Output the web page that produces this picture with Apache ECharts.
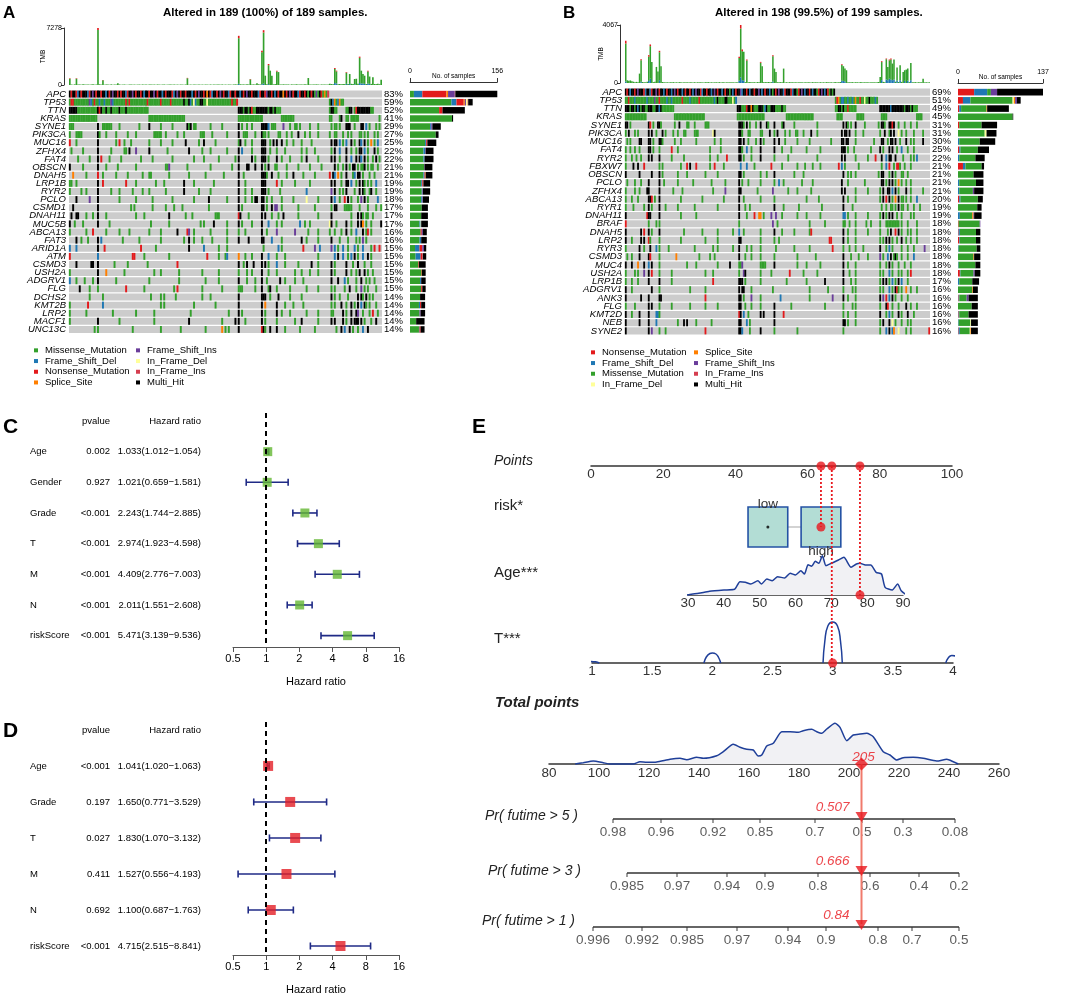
<!DOCTYPE html>
<html>
<head>
<meta charset="utf-8">
<title>oncoplot / forest / nomogram</title>
<script src="https://cdn.jsdelivr.net/npm/echarts@6/dist/echarts.min.js"></script>
<style>
html, body { margin: 0; padding: 0; background: #fff; }
#main { width: 1072px; height: 994px; }
</style>
</head>
<body>
<div id="main"></div>
<script>
/* ---------------- data ---------------- */
var mutTypes = ['Missense_Mutation', 'Frame_Shift_Del', 'Nonsense_Mutation', 'Splice_Site',
    'Frame_Shift_Ins', 'In_Frame_Del', 'In_Frame_Ins', 'Multi_Hit'];
var mutCodes = ['M', 'D', 'N', 'S', 'I', 'd', 'i', 'X'];

// panel A (189 samples)
var genesA = ['APC', 'TP53', 'TTN', 'KRAS', 'SYNE1', 'PIK3CA', 'MUC16', 'ZFHX4', 'FAT4', 'OBSCN',
    'DNAH5', 'LRP1B', 'RYR2', 'PCLO', 'CSMD1', 'DNAH11', 'MUC5B', 'ABCA13', 'FAT3', 'ARID1A',
    'ATM', 'CSMD3', 'USH2A', 'ADGRV1', 'FLG', 'DCHS2', 'KMT2B', 'LRP2', 'MACF1', 'UNC13C'];
var pctA = [83, 59, 52, 41, 29, 27, 25, 22, 22, 21, 21, 19, 19, 18, 17, 17, 17, 16, 16, 15,
    15, 15, 15, 15, 15, 14, 14, 14, 14, 14];
// counts per gene, order = mutTypes
var sideA = [
    [7, 15, 43, 3, 12, 0, 1, 76], [74, 9, 13, 2, 2, 3, 1, 8], [52, 0, 6, 0, 0, 0, 0, 40], [75, 0, 0, 0, 0, 0, 0, 2],
    [36, 2, 0, 0, 2, 0, 0, 15], [46, 0, 0, 0, 0, 0, 0, 5], [27, 2, 2, 0, 0, 0, 0, 16], [24, 3, 0, 0, 1, 0, 0, 14],
    [24, 2, 0, 0, 0, 0, 0, 16], [25, 0, 0, 0, 1, 0, 0, 14], [24, 2, 1, 1, 0, 0, 0, 12], [20, 2, 2, 0, 0, 0, 0, 12],
    [21, 1, 0, 0, 1, 0, 0, 13], [20, 2, 0, 0, 1, 0, 0, 11], [21, 0, 0, 0, 0, 0, 0, 11], [20, 0, 0, 0, 0, 0, 0, 12],
    [17, 2, 0, 0, 0, 1, 0, 12], [19, 0, 2, 0, 2, 0, 0, 7], [17, 3, 0, 0, 0, 0, 0, 10], [9, 8, 5, 0, 3, 0, 0, 4],
    [10, 9, 3, 0, 0, 0, 1, 6], [15, 0, 1, 0, 0, 0, 0, 12], [20, 0, 0, 1, 0, 0, 0, 7], [18, 2, 0, 0, 0, 0, 0, 8],
    [20, 0, 2, 0, 0, 0, 0, 6], [18, 0, 0, 0, 0, 0, 0, 9], [16, 2, 2, 0, 0, 0, 0, 7], [17, 0, 0, 0, 2, 0, 0, 8],
    [11, 0, 0, 0, 0, 0, 0, 15], [16, 1, 2, 0, 0, 0, 0, 7]];
var rowsA = [
    '0XNXXNDXNXX 10XDNXIXNXXN 20XXDXNXIXXN 30XNXXDNXXIX 40NXXNXDXXNX 50XIXNXXDXNX 60XXNDXIXNXX 70NXXXDXNXIX 80XNXSXNDXXN 90XIXNXXDNXX 100NXXDXNXIXX 110NXXXDNXXNI 120XXNXDXNXXS 130XNXIXNXXDN 140XXNXMXNXMI 150MXNMSMi',
    '0MNNMMMMMMM 10MMIDMNMMDM 20MDMMMIDMMM 30MMMMNMNMMM 40MMMMMMMNMM 50MMMMMNMMMM 60MNMMMMMMMX 70MMXDMdDMMX 80XMMdMMMMMM 90MMMMMMMMNM 100MN 157MXDSMDSMM',
    '0XXXXXMMMMM 10MMMMMMMXNX 20MMXMMXMMMM 30XMMMXMMMMM 40MMMMMMMM 102XXXMXXMXNM 112MXXXXXXX 120MXXMXMMM 157MXXMM 167MMXX 172MNXXXXXXXXMM',
    '0-16M 48-69M 102-116M 128-135M 157MM 163MX 167MM 170-174M 187M',
    '0MMM 17X 20MMMMMM 30M 42M 48X 55M 62M 71XMX 75MM 85M 92M 102X 104M 107M 110M 116XXXX 120D 122MMM 129I 133M 136MM 139M 145M 150M 158M 160MM 163M 167XXX 172M 176XX 179D 181M 185M 187M',
    '0M 4MMMM 17X 18M 22M 28M 35M 40M 51MMMMM 58M 65M 69M 79MMM 86M 95M 102X 105MMM 112M 116XM 118M 120M 126MM 131M 134M 138X 142M 145M 150M 157M 160MM 165M 168M 170M 175MM 178M 180M 184M 186M',
    '0N 4M 17X 28M 30N 33M 37M 48M 55M 62M 70X 78M 81X 88M 102MX 106M 110M 116XX 118X 121M 123X 125X 128X 131M 135M 140M 146M 158X 160XX 163D 165M 167D 170X 172M 175XD 178X 180M 182S 184M 186D',
    '1M 8M 17X 25M 33MM 36X 40I 48X 59M 72X 80M 85M 95M 102X 104D 110M 116XX 118X 121M 125M 130M 140M 143M 148M 158M 160X 163D 167X 170M 173M 175XX 178D 180M 184X 186M',
    '5M 12M 17X 19N 24M 31M 43M 50M 62M 75M 81M 90M 100M 102X 110X 112M 116XX 118X 120M 125X 128M 133M 140M 143X 150M 158X 160X 163M 167X 170D 173X 175X 176D 178X 180M 183M 185X 187M',
    '0X 8M 17X 22M 29M 40M 58MMI 71M 85M 98M 102X 107XX 112X 116X 118M 120X 124MM 131M 138M 145M 152M 160X 162M 165M 167X 169M 171XX 174M 176MM 178X 180M 182MM 186M',
    '2S 10M 17N 20M 28M 35M 44M 48MM 60M 72M 82M 93M 102X 105M 116XXX 119M 122X 126M 131M 135X 141M 148M 157N 159X 160D 162S 164M 167X 171MD 174XX 177M 181M 184M',
    '0MM 4M 17X 20N 34N 40M 52M 57M 69X 75M 87M 102X 106M 116XX 118X 125N 128M 136M 145M 158X 160X 164M 167XX 170D 173M 175X 177XM 180M 182M 185D',
    '0M 7M 10M 17X 25M 30M 38M 44M 48M 58M 69X 78M 85M 102X 106M 110M 116XXX 120M 127M 143D 158I 160X 163M 165M 167X 172M 175X 177X 178M 181MX 185M',
    '4X 12I 17X 30M 40M 50M 62M 75M 84X 95M 102X 106M 110M 112XX 116XX 119M 122M 128M 135M 143d 150M 158X 160D 163M 166N 168X 170M 174M 176I 178X 180M 186D',
    '2X 17X 37M 39M 50M 58M 63M 68M 84M 102X 104M 116XX 119M 122X 124II 128M 138M 148M 158M 160XX 166MM 168MMM 175M 180M 185M 188M',
    '1X 4XX 10M 14M 17X 22M 40M 45M 60X 70M 74M 88MMM 102NX 108M 116X 118X 122M 126M 129X 138M 150M 158X 170M 174X 176XM 179MM 183M',
    '0X 3M 8M 17X 24M 49M 60M 79M 81M 87X 95M 102X 104M 110M 116X 120D 125M 128M 139D 142M 145M 157d 158X 161M 167X 170M 174X 176X 177S 179M 182M 188X',
    '0M 10M 14N 22M 30M 36M 48M 55M 65X 71NI 75M 85M 95M 102M 106M 116X 119M 125I 136I 144M 150M 157M 160M 164M 167X 170M 173D 177X 179MN 182M',
    '4X 7M 11M 17X 19D 32M 42M 55M 69M 72X 75M 80M 86M 95M 102X 108X 116XX 122D 128M 140X 143M 150M 158X 163M 168M 173M 175M 177I 179M',
    '0D 4D 17X 21N 43N 52M 72X 81D 90M 95M 117M 126D 128M 141N 148I 151D 158I 160D 162M 165D 168M 172D 174M 177D 182M 184N 187N',
    '0N 17D 38NN 45M 60M 83N 90M 94MD 102S 106M 110M 116X 120D 125M 130M 150M 160D 162X 165D 168M 170D 172X 174M 177D 180X 182M',
    '4X 13XX 17X 27M 35M 47M 65N 102X 105M 107X 111X 116X 118X 120M 125D 130M 138M 146X 150M 158X 160M 167X 171M 174X 178M 182M',
    '0M 17X 22S 33M 51M 55M 66M 80M 90M 102M 107M 110M 116X 120M 125M 136M 140M 145M 150M 158X 160M 167X 170M 173M 175X 178X 180M 183M',
    '0D 4M 9M 14M 17X 28M 48M 66M 82M 90M 102X 107M 112M 116X 119M 127X 130M 136M 141M 158X 162X 166D 168M 173M 176X 179M 181M 184M',
    '6X 12M 17M 34N 45M 63M 65N 80M 92M 102MM 104M 112M 116X 120M 121X 125M 133M 143M 150M 158M 160M 166M 169X 173M 176I 178M 180M 185M',
    '12M 20M 49M 55M 57M 64M 80M 85M 102X 116XX 118X 121M 126X 133M 140M 158X 160M 163M 168M 174X 176XM 179X 181M 183M',
    '0M 11N 20D 55M 57M 75M 88M 102X 116X 118S 125X 130M 135M 141M 158M 160M 164X 167M 170X 172M 174X 176D 178XM 181M 185M',
    '0M 10M 26M 40M 51M 73M 96M 102X 104M 116X 118M 125X 128M 133M 143M 150M 158MM 165X 167M 170X 173X 174I 177M 181M 183N 186M',
    '0M 17X 30M 51M 72X 92M 100X 102X 106M 116X 118M 125M 136M 140X 150M 158X 160X 165X 167M 170X 172XX 174X 176X 178M 182M 185X',
    '15M 17M 38M 55M 67M 82M 92S 94M 96M 102X 116N 117X 118M 121X 125X 130M 139M 148M 161M 164X 166D 169X 171M 174M 177D 180X'];
var tmbA = [866, 60, 45, 80, 866, 55, 70, 40, 95, 60, 50, 75, 40, 65, 85, 45, 60, 7278, 90, 55,
    650, 40, 70, 50, 35, 80, 45, 60, 55, 216, 70, 40, 50, 65, 45, 30, 60, 75, 40, 55,
    35, 50, 60, 45, 70, 40, 55, 30, 65, 50, 45, 60, 35, 70, 50, 40, 55, 65, 30, 45,
    60, 50, 40, 75, 35, 55, 45, 60, 50, 40, 65, 910, 45, 55, 30, 60, 50, 40, 70, 35,
    55, 45, 60, 50, 40, 65, 30, 55, 45, 60, 50, 40, 70, 35, 55, 45, 60, 50, 40, 65,
    80, 55, 6280, 90, 60, 75, 50, 85, 65, 766, 55, 80, 60, 216, 95, 70, 4375, 7000, 1190, 90,
    2680, 1830, 1190, 80, 110, 1830, 1650, 75, 60, 85, 50, 65, 70, 45, 80, 55, 60, 90, 50, 75,
    65, 55, 80, 60, 890, 70, 50, 65, 55, 80, 60, 45, 70, 55, 65, 50, 60, 150, 120, 110,
    2170, 1830, 100, 130, 90, 140, 110, 1650, 120, 1400, 150, 130, 766, 800, 160, 3620, 1830, 1400, 1190, 120,
    1830, 1080, 140, 980, 130, 110, 150, 100, 680];
var tmbNonA = [[0, 60], [4, 60], [17, 250], [20, 40], [71, 50], [102, 300], [109, 50], [116, 200], [117, 300],
    [120, 150], [125, 100], [160, 120], [161, 100], [167, 80], [175, 150], [180, 100]];
var tmbFsA = [[102, 150], [116, 100], [117, 200], [120, 120], [160, 250], [161, 200], [167, 150], [169, 150],
    [172, 100], [175, 250], [176, 200], [177, 200], [178, 150], [180, 200], [181, 150]];

// panel B (199 samples)
var genesB = ['APC', 'TP53', 'TTN', 'KRAS', 'SYNE1', 'PIK3CA', 'MUC16', 'FAT4', 'RYR2', 'FBXW7',
    'OBSCN', 'PCLO', 'ZFHX4', 'ABCA13', 'RYR1', 'DNAH11', 'BRAF', 'DNAH5', 'LRP2', 'RYR3',
    'CSMD3', 'MUC4', 'USH2A', 'LRP1B', 'ADGRV1', 'ANK3', 'FLG', 'KMT2D', 'NEB', 'SYNE2'];
var pctB = [69, 51, 49, 45, 31, 31, 30, 25, 22, 21, 21, 21, 21, 20, 19, 19, 18, 18, 18, 18,
    18, 18, 18, 17, 16, 16, 16, 16, 16, 16];
var sideB = [
    [6, 21, 26, 0, 10, 0, 0, 74], [68, 12, 8, 2, 3, 2, 0, 6], [41, 3, 2, 1, 0, 0, 0, 35], [88, 0, 0, 0, 0, 0, 0, 1],
    [36, 0, 2, 0, 0, 0, 0, 25], [43, 0, 0, 0, 0, 3, 0, 16], [33, 2, 0, 0, 0, 0, 0, 25], [28, 2, 2, 0, 0, 0, 0, 18],
    [26, 2, 0, 0, 0, 0, 0, 15], [26, 4, 8, 0, 0, 0, 0, 4], [25, 0, 0, 0, 0, 0, 0, 16], [27, 2, 0, 0, 0, 0, 0, 12],
    [22, 2, 0, 0, 2, 0, 0, 15], [28, 2, 2, 0, 0, 0, 0, 8], [31, 0, 0, 0, 0, 0, 0, 7], [20, 3, 0, 2, 1, 0, 0, 12],
    [34, 0, 1, 0, 1, 0, 0, 0], [26, 2, 1, 0, 0, 0, 0, 7], [26, 1, 2, 0, 0, 0, 0, 7], [29, 1, 0, 0, 0, 0, 0, 6],
    [25, 0, 0, 1, 0, 0, 0, 10], [27, 1, 0, 0, 0, 0, 0, 8], [21, 1, 3, 0, 2, 0, 0, 9], [21, 2, 0, 0, 0, 0, 0, 11],
    [23, 0, 0, 1, 0, 0, 0, 8], [12, 1, 1, 0, 3, 0, 0, 15], [22, 0, 0, 0, 0, 0, 0, 10], [15, 1, 1, 0, 0, 0, 0, 15],
    [19, 1, 0, 0, 0, 1, 0, 11], [16, 2, 1, 1, 0, 1, 0, 11]];
var rowsB = [
    '0XNXDXXNXIX 10XXNDXXDNXX 20IXNXXDXNXX 30DXIXNXXDXN 40XXNXDXIXXN 50DXXNXXDXIX 60NXXDXNXXMX 70DXNXXIDXXN 80XDXXNXXIXD 90XNXXDXMXNX 100IXXDNXXXND 110XXMNXIXDXX 120NXDXXMNXIX 130DXNMXMX',
    '0MMNMMMDMMM 10MMMMDMMMMI 20MMNMMMMDMM 30DMMMMMMNMM 40MMDMMMMMNM 50MMMMMMMMDM 60XMMMMXXMMM 70dMD 137MNSMDDMMDM 147MDMSMMNMMd 157MMXMMMDM',
    '0XXXMXXMXDX 10MXXMMXXXMM 20XXDXMMMMMM 30MM 73XXXMMMNXXS 83XMMMXXXMDX 93MMXXXMMMMXMM 137MMXXMXMMNMMMMM 166XXXXXXXDXXXX 178XXXXMXXXMXMMM',
    '0-13M 32-51M 73-90M 105-122M 138-141M 151-155M 167-170M 190-193M',
    '0XX 3M 15XN 18M 21XXM 32M 35X 40MM 45M 52MMM 74XXX 77M 79X 81M 85M 88X 92XM 97X 102MX 110M 125M 142X 144XM 147M 150X 156M 165M 167XXM 172XXN 175X 178M 182M 186M 190M',
    '0M 2X 6M 8M 15X 17X 20M 24X 26M 31M 34M 38MM 45MMM 57d 58X 74XX 76M 80MM 88MM 94X 97M 99X 104M 107M 111MM 116M 121X 125M 141X 143XX 146X 150M 155M 166M 169X 172MX 175X 178d 180M 183M 188M 194M',
    '1M 3M 9XX 15XX 18M 22XX 24M 32M 36M 46M 58M 62M 74XX 77X 80M 85M 88X 90M 97X 100X 104M 112M 120M 134M 141XX 144XX 150M 162M 167XX 171M 173XX 176X 179M 183X 186M 188M 194X',
    '0M 3M 6M 9M 15XX 18M 22M 30N 34M 55M 62M 74XX 76M 79D 82M 88X 97X 102M 108M 118M 127M 141XX 143X 145M 149M 160M 166X 168M 172X 174X 177M 180D 184M 188M',
    '0M 4M 7M 10M 15X 17X 22X 30M 38M 55M 60M 66N 74XX 77M 82M 88X 97M 106M 125M 141X 143X 150M 158M 163N 167X 170D 172XX 176X 181M 186M 188M 190D',
    '0M 5X 8X 12N 22M 24M 36M 40N 42X 46N 55M 58N 64M 75D 79D 84M 95N 102M 112M 117M 122M 127M 139N 141D 143M 152M 167M 170D 172N 175M 177NN 179M 182M 186M',
    '0X 9X 17X 22X 24M 34M 40M 52M 60M 74XX 77M 88M 92M 97X 110M 116M 142X 145M 147M 150M 165M 167XX 172M 174X 176M 180MM 184M',
    '1M 6M 10M 15X 22X 25M 34M 44M 56M 65M 74X 76M 80M 88M 97M 100D 103M 115M 122M 141X 145M 156M 167XX 170M 172X 174X 176M 178S 180M 183M 186M',
    '0M 6M 9M 14XX 22X 31M 37M 57M 65I 74XX 86M 96I 106M 112M 121M 141X 143X 150M 158M 166M 168X 171XX 174D 176X 178M 183X 186M 194M',
    '0M 4M 8M 15X 16XN 19M 22X 36M 50M 64M 74X 77M 88M 97M 118M 126M 142X 145M 150M 166M 168X 170N 172X 174M 176S 178X 180MM 183M 186M 190D',
    '0M 5M 12M 15X 17M 22X 26M 34M 45M 60M 74X 78M 81M 97X 103M 113M 128M 142X 148M 167M 170M 173MM 176M 178X 180MM 184M 188M 192M',
    '0X 14N 15XX 22X 36M 46M 74X 79M 84N 87SS 90M 95I 98I 102M 112M 118M 127M 142DD 145M 150M 158M 166M 168X 170M 172X 174X 177M 180M 186M 188M',
    '0N 15M 20M 22M 74M 96I 99M 120M 130M 142MM 146M 150M 157M 160M 166M 170MMMMMMMM 178M 180M 184M 190M',
    '0X 10X 12N 15X 17M 22X 38M 50M 60M 70M 74D 77M 88M 97X 102M 110M 120MN 142X 145M 150M 158M 166M 171M 173X 176N 178X 180M 184M 186M 190M',
    '0X 4M 10X 12X 15NM 22M 36M 52M 60M 74XX 88M 97M 100M 133NN 142X 145M 150M 166M 168M 170X 172X 174M 177M 180X 183M 186M 190M',
    '0M 9X 12M 16X 20D 22M 28M 45M 57M 60M 70M 74X 79M 82M 88M 98M 110M 120M 135N 142M 146M 150M 155M 166X 170M 172D 174M 180M 184M 188M 195I',
    '1M 4M 9X 15XN 22M 33S 48M 55M 58M 74X 78M 82M 88M 97M 112M 124M 142X 147M 152M 158M 166I 168M 171D 173X 175MX 177M 180M 184M 188D',
    '0X 4X 8S 12X 15D 17X 22M 40M 46M 60M 68X 74MM 76I 88MMMM 97X 112M 118M 127M 142X 145M 150M 166M 170M 172X 174M 178M 182M 186M',
    '0M 6M 8M 12I 15X 17N 22M 30M 52M 57M 74M 77IX 88M 95M 107N 116M 125M 142X 146M 150M 166M 168M 172D 174M 178M 180M 184M 186N',
    '0M 4M 8M 15X 22X 30M 57N 74XXX 78M 88M 105M 118M 130X 142X 147M 150M 166M 168X 170X 172M 174D 176M 178X 180D 184M',
    '0X 4M 17X 22M 42M 52M 74X 76XX 82M 96M 120M 132M 142M 148M 150M 166M 168M 172D 174M 176XN 178M 180M 183S 186M 190M',
    '0X 10X 15X 22XX 52N 74XX 77M 82I 88M 101D 120M 135I 142X 145M 150M 166X 168I 170N 172D 174X 176M 180M 184M',
    '0M 6M 15X 17X 22M 30M 42M 52M 60M 74XX 78M 82M 88M 97X 108M 130M 142M 148M 150M 166M 170XN 174M 178M 183X 186M 190M',
    '0X 4M 9X 15X 20DD 22M 74NX 77D 80M 88X 90X 97X 103N 142M 145M 150M 166X 170M 172D 174M 178X 180M 184X 188M',
    '0X 9X 15X 20D 34M 38X 40X 46M 56M 74XX 79D 81M 97X 142XX 145M 150M 166M 168X 172X 174d 176M 180M 184M 186M',
    '0X 15X 17I 22M 26M 52N 74XX 76D 81M 88X 97M 112M 142M 166M 170D 172X 174DS 178d 183M 186M 198N'];
var tmbB = [2962, 190, 150, 180, 120, 90, 60, 80, 50, 658, 1669, 70, 60, 50, 90, 1951, 2703, 1481, 60, 80,
    1128, 800, 2257, 1175, 70, 50, 40, 60, 35, 55, 45, 60, 40, 50, 35, 60, 45, 30, 55, 40,
    50, 35, 60, 45, 40, 55, 30, 50, 45, 60, 40, 35, 55, 45, 60, 30, 50, 40, 45, 55,
    35, 60, 40, 50, 45, 30, 55, 40, 60, 45, 50, 35, 60, 45, 1834, 4067, 2351, 2186, 60, 1645,
    50, 70, 45, 60, 55, 40, 65, 50, 1481, 1175, 55, 60, 45, 70, 50, 60, 1951, 1011, 776, 55,
    45, 60, 50, 1011, 40, 55, 35, 60, 45, 50, 40, 55, 35, 50, 45, 60, 30, 50, 40, 55,
    45, 35, 60, 40, 50, 45, 30, 55, 40, 50, 35, 60, 45, 40, 55, 30, 50, 60, 40, 55,
    70, 1316, 1175, 1011, 893, 60, 50, 45, 60, 40, 55, 45, 35, 60, 50, 40, 55, 45, 60, 35,
    50, 45, 60, 40, 55, 70, 423, 1528, 80, 60, 1716, 1128, 1645, 1716, 1363, 1645, 90, 1081, 70, 1246,
    80, 776, 893, 940, 1011, 60, 1411, 50, 45, 60, 40, 55, 45, 50, 306, 40, 55, 35, 45];
var tmbNonB = [[0, 200], [10, 80], [15, 100], [16, 120], [22, 100], [74, 80], [75, 250], [76, 120],
    [79, 60], [88, 60], [96, 80], [141, 50], [167, 60], [170, 50], [172, 60], [173, 60]];
var tmbFsB = [[0, 100], [10, 80], [15, 150], [16, 300], [22, 200], [74, 150], [75, 400], [76, 200], [77, 150],
    [96, 100], [141, 150], [142, 150], [143, 100], [167, 200], [170, 250], [171, 200], [172, 300], [173, 250],
    [174, 200], [175, 250], [177, 150], [179, 200], [182, 150], [184, 150], [186, 200]];

// panel C / D forest plots
var varsC = ['Age', 'Gender', 'Grade', 'T', 'M', 'N', 'riskScore'];
var pvalC = ['0.002', '0.927', '<0.001', '<0.001', '<0.001', '<0.001', '<0.001'];
var hrC = [1.033, 1.021, 2.243, 2.974, 4.409, 2.011, 5.471];
var lowC = [1.012, 0.659, 1.744, 1.923, 2.776, 1.551, 3.139];
var highC = [1.054, 1.581, 2.885, 4.598, 7.003, 2.608, 9.536];
var varsD = ['Age', 'Grade', 'T', 'M', 'N', 'riskScore'];
var pvalD = ['<0.001', '0.197', '0.027', '0.411', '0.692', '<0.001'];
var hrD = [1.041, 1.650, 1.830, 1.527, 1.100, 4.715];
var lowD = [1.020, 0.771, 1.070, 0.556, 0.687, 2.515];
var highD = [1.063, 3.529, 3.132, 4.193, 1.763, 8.841];

// panel E nomogram
var riskLevels = ['low', 'high'];
var riskPoints = [49.0, 63.7];
var patientPoints = [63.7, 74.5, 66.7];   // risk = high, Age = 78, T = 3
var patientAge = 78;
var patientT = 3;
var ageDensX = [29.5, 33, 36, 40, 43, 44.5, 46, 47.5, 49.5, 50.5, 52, 53.5, 55, 57, 58.5, 60, 61.5, 62.5, 63.5,
    64.5, 65.5, 66.5, 67.5, 68.5, 70, 72, 73.5, 75.5, 77, 78, 79.5, 81, 82.5, 84, 85, 87, 88.5, 89.5, 91];
var ageDensY = [0, 1.7, 3.7, 5, 5.7, 13.3, 12.7, 11, 14.3, 11, 16, 14.3, 18.3, 17, 21.7, 20, 24.3, 21, 30.3,
    28.7, 33.7, 31.7, 39.3, 29.3, 31.7, 35, 37.7, 27.7, 31, 31.7, 30, 30, 22.7, 21, 7.7, 5, 11, 4.3, 0];
var tBumps = [
    [[0.9, 0], [0.93, 1.3], [0.98, 1.6], [1.03, 1.2], [1.06, 0]],
    [[1.93, 0], [1.95, 6], [1.98, 9.5], [2.0, 10], [2.03, 9], [2.05, 6], [2.07, 0]],
    [[2.92, 0], [2.935, 22], [2.96, 37], [3.0, 41], [3.04, 37], [3.065, 22], [3.08, 0]],
    [[3.94, 0], [3.96, 5], [3.99, 7.5], [4.02, 7], [4.05, 4], [4.08, 0]]];
var totalDensX = [90.5, 93.7, 97.7, 101.7, 104.4, 113.7, 116.4, 119.1, 123.1, 128.4, 132.4, 135.1, 139.1, 141.7,
    147.1, 149.7, 153.7, 156.4, 159.1, 161.7, 163.7, 165.1, 167.1, 169.7, 173.1, 176.4, 179.7, 181.7, 185.1,
    187.1, 189.1, 191.1, 194.4, 196.4, 199.1, 201.7, 204.4, 207.1, 209.7, 213.7, 216.4, 219.1, 221.7, 225.7,
    229.7, 235.1, 239.1, 241.7, 243.7];
var totalDensY = [0, 1.3, 3, 1.3, 0, 0, 2.3, 1.7, 2, 4.7, 5.7, 4.3, 6.7, 5.7, 8.3, 12.3, 19.7, 16.7, 14.7, 14,
    8, 9, 18, 20.7, 32.3, 32.3, 31.7, 33.3, 34.7, 32.3, 30.7, 35, 40.7, 36.7, 23.3, 29, 30, 30.7, 27.3, 12.3,
    9, 4, 6.3, 6.7, 5.7, 3, 4.7, 2.3, 0];
var totalScore = 205;
var prNames = ['Pr( futime > 5 )', 'Pr( futime > 3 )', 'Pr( futime > 1 )'];
var prLabels = [
    ['0.98', '0.96', '0.92', '0.85', '0.7', '0.5', '0.3', '0.08'],
    ['0.985', '0.97', '0.94', '0.9', '0.8', '0.6', '0.4', '0.2'],
    ['0.996', '0.992', '0.985', '0.97', '0.94', '0.9', '0.8', '0.7', '0.5']];
var prTotalPos = [
    [105.6, 124.8, 145.6, 164.4, 186.4, 205.2, 221.6, 242.4],
    [111.2, 131.2, 151.2, 166.4, 187.6, 208.4, 228, 244],
    [97.6, 117.2, 135.2, 155.2, 175.6, 190.8, 211.6, 225.2, 244]];
var prPredicted = ['0.507', '0.666', '0.84'];

/* ---------------- style ---------------- */
var FONT = '"Liberation Sans", Arial, Helvetica, sans-serif';
var mutColors = ['#33A02C', '#1F78B4', '#E31A1C', '#FF7F00', '#6A3D9A', '#FFFF99', '#D53E4F', '#000000'];
var RED = '#e8171d';
var CURVE = '#1f3f99';

var grids = [], xAxes = [], yAxes = [], series = [], titles = [], legends = [];

function range(n) {
    var a = [];
    for (var i = 0; i < n; i++) a.push(i);
    return a;
}
function addGrid(g) {
    g.outerBoundsMode = 'none';
    g.containLabel = false;
    grids.push(g);
    return grids.length - 1;
}
function addX(a) { xAxes.push(a); return xAxes.length - 1; }
function addY(a) { yAxes.push(a); return yAxes.length - 1; }
function txt(size, extra) {
    var s = {fontSize: size, fontFamily: FONT, color: '#000', fontWeight: 'normal'};
    for (var k in extra) s[k] = extra[k];
    return s;
}
function addTitle(text, left, top, style) {
    titles.push({text: text, left: left, top: top, padding: 0, textStyle: style});
}
function plain(v) { return String(v); }

// turn "12MMX 40-45M" tokens into one row of type indices (-1 = no mutation)
function expandRow(tokens, n) {
    var row = [];
    for (var i = 0; i < n; i++) row.push(-1);
    tokens.split(/\s+/).forEach(function (tok) {
        var m = /^(\d+)-(\d+)([A-Za-z])$/.exec(tok);
        if (m) {
            for (var j = +m[1]; j <= +m[2] && j < n; j++) row[j] = mutCodes.indexOf(m[3]);
            return;
        }
        m = /^(\d+)([A-Za-z]+)$/.exec(tok);
        if (!m) return;
        for (var k = 0; k < m[2].length; k++) {
            if (+m[1] + k < n) row[+m[1] + k] = mutCodes.indexOf(m[2][k]);
        }
    });
    return row;
}

function oncoplot(c) {
    var n = c.tmb.length;
    // TMB bars
    var gT = addGrid({left: c.left, top: c.tmbTop, width: c.width, height: c.tmbH});
    var xT = addX({gridIndex: gT, type: 'category', data: range(n), show: false});
    var yT = addY({gridIndex: gT, type: 'value', min: 0, max: c.tmbMax, interval: c.tmbMax, offset: 5,
        splitLine: {show: false},
        axisLine: {show: true, lineStyle: {color: '#000', width: 0.8}},
        axisTick: {show: true, length: 3, lineStyle: {color: '#000', width: 0.8}},
        axisLabel: txt(7, {margin: 2, formatter: plain}),
        name: 'TMB', nameLocation: 'middle', nameRotate: 90, nameGap: c.tmbNameGap, nameMoveOverlap: false,
        nameTextStyle: txt(6.5)});
    var fs = [], non = [];
    for (var i = 0; i < n; i++) { fs.push(0); non.push(0); }
    c.tmbFs.forEach(function (p) { fs[p[0]] = p[1]; });
    c.tmbNon.forEach(function (p) { non[p[0]] = p[1]; });
    var mis = c.tmb.map(function (v, i) { return Math.max(v - fs[i] - non[i], 0); });
    [[fs, 1], [mis, 0], [non, 2]].forEach(function (s) {
        series.push({type: 'bar', xAxisIndex: xT, yAxisIndex: yT, stack: c.key + 'tmb', data: s[0],
            barCategoryGap: '0%', itemStyle: {color: mutColors[s[1]]}, silent: true});
    });

    // mutation matrix
    var gM = addGrid({left: c.left, top: c.matTop, width: c.width, height: c.matH});
    var xM = addX({gridIndex: gM, type: 'category', data: range(n), show: false});
    var yM = addY({gridIndex: gM, type: 'category', data: c.genes, inverse: true,
        axisLine: {show: false}, axisTick: {show: false},
        axisLabel: txt(9.5, {fontStyle: 'italic', margin: 3, interval: 0})});
    addY({gridIndex: gM, type: 'category', data: c.genes, inverse: true, position: 'right',
        axisLine: {show: false}, axisTick: {show: false},
        axisLabel: txt(9.5, {margin: 2, interval: 0, formatter: function (v, i) { return c.pct[i] + '%'; }})});
    series.push({type: 'custom', xAxisIndex: xM, yAxisIndex: yM, silent: true,
        data: c.genes.map(function (g, i) { return [0, i]; }),
        renderItem: function (params, api) {
            var a = api.coord([0, api.value(1)]);
            var b = api.coord([n - 1, api.value(1)]);
            var s = api.size([1, 1]);
            return {type: 'rect', shape: {x: a[0] - s[0] / 2, y: a[1] - s[1] / 2 + 0.6,
                width: b[0] - a[0] + s[0], height: s[1] - 1.2}, style: {fill: '#cccccc'}};
        }});
    var cells = [];
    c.rows.forEach(function (tokens, gi) {
        expandRow(tokens, n).forEach(function (t, si) {
            if (t >= 0) cells.push([si, gi, t]);
        });
    });
    series.push({type: 'custom', xAxisIndex: xM, yAxisIndex: yM, silent: true, data: cells,
        renderItem: function (params, api) {
            var p = api.coord([api.value(0), api.value(1)]);
            var s = api.size([1, 1]);
            return {type: 'rect', shape: {x: p[0] - s[0] / 2 - 0.15, y: p[1] - s[1] / 2 + 0.6,
                width: s[0] + 0.3, height: s[1] - 1.2}, style: {fill: mutColors[api.value(2)]}};
        }});

    // side bars: samples per gene
    var gS = addGrid({left: c.sideLeft, top: c.matTop, width: c.sideW, height: c.matH});
    addX({gridIndex: gS, type: 'value', position: 'top', min: 0, max: c.sideMax, interval: c.sideMax,
        offset: c.sideOffset, splitLine: {show: false},
        axisLine: {show: true, lineStyle: {color: '#000', width: 0.8}},
        axisTick: {show: true, length: 4, lineStyle: {color: '#000', width: 0.8}},
        axisLabel: txt(7, {margin: 7, formatter: plain}),
        name: 'No. of samples', nameLocation: 'middle', nameGap: 2, nameMoveOverlap: false,
        nameTextStyle: txt(6.5, {verticalAlign: 'bottom'})});
    var xS = xAxes.length - 1;
    var yS = addY({gridIndex: gS, type: 'category', data: c.genes, inverse: true, show: false});
    c.order.forEach(function (t) {
        series.push({type: 'bar', name: mutTypes[t], xAxisIndex: xS, yAxisIndex: yS, stack: c.key + 'side',
            barWidth: '80%', data: c.side.map(function (r) { return r[t]; }),
            itemStyle: {color: mutColors[t]}, silent: true});
    });

    // legend in two columns
    [c.order.slice(0, 4), c.order.slice(4)].forEach(function (col, k) {
        legends.push({left: c.legendLeft[k], top: c.legendTop, orient: 'vertical', padding: 0,
            itemWidth: 4, itemHeight: 4, itemGap: 0, icon: 'rect', selectedMode: false,
            data: col.map(function (t) { return mutTypes[t]; }),
            textStyle: txt(9.5, {lineHeight: 10.7, padding: [0, 0, 0, 2]})});
    });
}

function forest(c) {
    var g = addGrid({left: 233, top: c.top, width: 166, height: c.height});
    var xi = addX({gridIndex: g, type: 'log', logBase: 2, min: 0.5, max: 16,
        splitLine: {show: false},
        axisLine: {show: true, onZero: false, lineStyle: {color: '#555', width: 1}},
        axisTick: {show: true, length: 5, lineStyle: {color: '#555'}},
        axisLabel: txt(11, {margin: 6, formatter: function (v) { return String(+v.toPrecision(3)); }}),
        name: 'Hazard ratio', nameLocation: 'middle', nameGap: 29, nameMoveOverlap: false,
        nameTextStyle: txt(11)});
    var rich = {
        n: txt(9.5, {width: 50, align: 'left'}),
        p: txt(9.5, {width: 30, align: 'right'}),
        h: txt(9.5, {width: 91, align: 'right'})
    };
    var yi = addY({gridIndex: g, type: 'value', inverse: true, min: c.yMin, max: c.yMax,
        splitLine: {show: false}, axisLine: {show: false}, axisTick: {show: false},
        axisLabel: {margin: 32, customValues: range(c.vars.length + 1), rich: rich,
            formatter: function (v) {
                var i = Math.round(v);
                if (i === 0) return '{n| }{p|pvalue}{h|Hazard ratio}';
                var k = i - 1;
                return '{n|' + c.vars[k] + '}{p|' + c.pval[k] + '}{h|' + c.hr[k].toFixed(3) + '(' +
                    c.low[k].toFixed(3) + '\u2212' + c.high[k].toFixed(3) + ')}';
            }}});
    series.push({type: 'custom', xAxisIndex: xi, yAxisIndex: yi, silent: true, z: 3,
        data: c.low.map(function (lo, k) { return [lo, c.high[k], k + 1]; }),
        encode: {x: [0, 1], y: 2},
        renderItem: function (params, api) {
            var a = api.coord([api.value(0), api.value(2)]);
            var b = api.coord([api.value(1), api.value(2)]);
            var st = {stroke: '#1f2a86', lineWidth: 1.6};
            return {type: 'group', children: [
                {type: 'line', shape: {x1: a[0], y1: a[1], x2: b[0], y2: b[1]}, style: st},
                {type: 'line', shape: {x1: a[0], y1: a[1] - 3.5, x2: a[0], y2: a[1] + 3.5}, style: st},
                {type: 'line', shape: {x1: b[0], y1: b[1] - 3.5, x2: b[0], y2: b[1] + 3.5}, style: st}]};
        }});
    series.push({type: 'scatter', xAxisIndex: xi, yAxisIndex: yi, symbol: 'rect', symbolSize: c.box, z: 4,
        silent: true, itemStyle: {color: c.color},
        data: c.hr.map(function (v, k) { return [v, k + 1]; }),
        markLine: {silent: true, symbol: 'none', label: {show: false}, animation: false,
            lineStyle: {color: '#000', type: [5, 4], width: 2}, data: [{xAxis: 1}]}});
}

/* ---------------- panels A, B ---------------- */
oncoplot({key: 'A', genes: genesA, pct: pctA, side: sideA, rows: rowsA, tmb: tmbA, tmbNon: tmbNonA, tmbFs: tmbFsA,
    left: 69, width: 313, tmbTop: 28, tmbH: 57, tmbMax: 7278, tmbNameGap: 17, matTop: 90, matH: 243.5,
    sideLeft: 410, sideW: 87.3, sideMax: 156, sideOffset: 8, order: [0, 1, 2, 3, 4, 5, 6, 7],
    legendLeft: [34, 136], legendTop: 345});
oncoplot({key: 'B', genes: genesB, pct: pctB, side: sideB, rows: rowsB, tmb: tmbB, tmbNon: tmbNonB, tmbFs: tmbFsB,
    left: 625, width: 305, tmbTop: 25, tmbH: 58, tmbMax: 4067, tmbNameGap: 15, matTop: 88, matH: 247,
    sideLeft: 958, sideW: 85, sideMax: 137, sideOffset: 5, order: [2, 1, 0, 5, 3, 4, 6, 7],
    legendLeft: [591, 694], legendTop: 347});

/* ---------------- panels C, D ---------------- */
forest({vars: varsC, pval: pvalC, hr: hrC, low: lowC, high: highC, top: 413, height: 234,
    yMin: -0.26, yMax: 7.37, color: '#63b632', box: 9});
forest({vars: varsD, pval: pvalD, hr: hrD, low: lowD, high: highD, top: 722, height: 233,
    yMin: -0.22, yMax: 6.25, color: '#e31e25', box: 10});

/* ---------------- panel E: nomogram ---------------- */
var rowRisk = 61, rowAge = 129, rowT = 197;        // pixel offsets below the Points axis
var axisE = function (extra) {
    var a = {splitLine: {show: false},
        axisLine: {show: true, onZero: false, lineStyle: {color: '#333', width: 1.5}},
        axisTick: {show: false},
        axisLabel: txt(13.5, {color: '#333', margin: 1})};
    for (var k in extra) a[k] = extra[k];
    return a;
};
// points scale + connectors
var gE0 = addGrid({left: 591, top: 466, width: 361, height: 197});
var xE0 = addX(axisE({gridIndex: gE0, type: 'value', position: 'top', min: 0, max: 100, interval: 20,
    axisLabel: txt(13.5, {color: '#333', margin: 1, inside: true})}));
var yE0 = addY({gridIndex: gE0, type: 'value', min: 0, max: 197, inverse: true, show: false});
[rowRisk, rowAge, rowT].forEach(function (r, k) {
    series.push({type: 'line', xAxisIndex: xE0, yAxisIndex: yE0, symbol: 'none', silent: true, z: 6,
        data: [[patientPoints[k], 0], [patientPoints[k], r]],
        lineStyle: {color: RED, width: 1.8, type: [2, 2]}});
});
series.push({type: 'line', xAxisIndex: xE0, yAxisIndex: yE0, symbol: 'none', silent: true, z: 1,
    data: riskPoints.map(function (p) { return [p, rowRisk]; }), lineStyle: {color: '#c4c4c4', width: 1.5}});
series.push({type: 'custom', xAxisIndex: xE0, yAxisIndex: yE0, silent: true, z: 3,
    data: riskPoints.map(function (p, i) { return [p, rowRisk, i]; }),
    renderItem: function (params, api) {
        var i = api.value(2);
        var c = api.coord([api.value(0), api.value(1)]);
        var s = api.size([11, 40]);
        var w = Math.abs(s[0]), h = Math.abs(s[1]);
        var top = i === 0;
        return {type: 'group', children: [
            {type: 'rect', shape: {x: c[0] - w / 2, y: c[1] - h / 2, width: w, height: h},
                style: {fill: '#b3ddd5', stroke: '#2452a4', lineWidth: 1.6}},
            {type: 'text', x: c[0], y: top ? c[1] - h / 2 + 4 : c[1] + h / 2 - 3,
                style: {text: riskLevels[i], fill: '#333', font: '13.5px ' + FONT,
                    align: 'center', textAlign: 'center',
                    verticalAlign: top ? 'bottom' : 'top', textVerticalAlign: top ? 'bottom' : 'top'}}]};
    }});
series.push({type: 'scatter', xAxisIndex: xE0, yAxisIndex: yE0, symbolSize: 3, silent: true, z: 5,
    itemStyle: {color: '#000'}, data: [[riskPoints[0], rowRisk]]});
series.push({type: 'scatter', xAxisIndex: xE0, yAxisIndex: yE0, symbolSize: 9, silent: true, z: 7,
    itemStyle: {color: RED},
    data: patientPoints.map(function (p) { return [p, 0]; }).concat([[patientPoints[0], rowRisk]])});

// Age row
var gAge = addGrid({left: 688, top: 548, width: 215, height: 47});
var xAge = addX(axisE({gridIndex: gAge, type: 'value', min: 30, max: 90, interval: 10}));
var yAge = addY({gridIndex: gAge, type: 'value', min: 0, max: 47, show: false});
series.push({type: 'line', xAxisIndex: xAge, yAxisIndex: yAge, symbol: 'none', silent: true, clip: false,
    smooth: 0.2, data: ageDensX.map(function (x, i) { return [x, ageDensY[i]]; }),
    lineStyle: {color: CURVE, width: 1.5}, areaStyle: {color: '#f1f1f4', opacity: 1}});
series.push({type: 'scatter', xAxisIndex: xAge, yAxisIndex: yAge, symbolSize: 9, silent: true, z: 7,
    itemStyle: {color: RED}, data: [[patientAge, 0]]});

// T row
var gT = addGrid({left: 592, top: 620, width: 361, height: 43});
var xTT = addX(axisE({gridIndex: gT, type: 'value', min: 1, max: 4, interval: 0.5}));
var yTT = addY({gridIndex: gT, type: 'value', min: 0, max: 43, show: false});
tBumps.forEach(function (b) {
    series.push({type: 'line', xAxisIndex: xTT, yAxisIndex: yTT, symbol: 'none', silent: true, clip: false,
        smooth: 0.5, data: b, lineStyle: {color: CURVE, width: 1.5}});
});
series.push({type: 'scatter', xAxisIndex: xTT, yAxisIndex: yTT, symbolSize: 9, silent: true, z: 7,
    itemStyle: {color: RED}, data: [[patientT, 0]]});

// total points + probabilities (y unit = 1 px, total-points axis at y = 0)
var prRows = [-55, -109, -163];
var gE1 = addGrid({left: 549, top: 714, width: 450, height: 220});
var xE1 = addX(axisE({gridIndex: gE1, type: 'value', min: 80, max: 260, interval: 20, offset: -170,
    axisLabel: txt(13.5, {color: '#333', margin: 2})}));
var yE1 = addY({gridIndex: gE1, type: 'value', min: -170, max: 50, show: false});
series.push({type: 'line', xAxisIndex: xE1, yAxisIndex: yE1, symbol: 'none', silent: true, smooth: 0.2,
    data: totalDensX.map(function (x, i) { return [x, totalDensY[i]]; }),
    lineStyle: {color: CURVE, width: 1.5}, areaStyle: {color: '#f1f1f4', opacity: 1, origin: 0}});
prRows.forEach(function (r, k) {
    var pos = prTotalPos[k];
    series.push({type: 'line', xAxisIndex: xE1, yAxisIndex: yE1, symbol: 'none', silent: true,
        data: [[pos[0], r], [pos[pos.length - 1], r]], lineStyle: {color: '#333', width: 1.5}});
    series.push({type: 'scatter', xAxisIndex: xE1, yAxisIndex: yE1, symbol: 'rect', symbolSize: [1.2, 4],
        symbolOffset: [0, 2], silent: true, itemStyle: {color: '#333'},
        data: pos.map(function (p) { return [p, r]; }),
        label: {show: true, position: 'bottom', distance: 2, fontSize: 13.5, fontFamily: FONT, color: '#333',
            formatter: function (p) { return prLabels[k][p.dataIndex]; }}});
});
series.push({type: 'line', xAxisIndex: xE1, yAxisIndex: yE1, symbol: 'none', silent: true, z: 5,
    data: [[totalScore, 0], [totalScore, prRows[2] + 3]], lineStyle: {color: '#f07a6c', width: 2}});
series.push({type: 'scatter', xAxisIndex: xE1, yAxisIndex: yE1, symbol: 'triangle', symbolRotate: 180,
    symbolSize: [12, 10], silent: true, z: 6, itemStyle: {color: RED},
    data: prRows.map(function (r) { return [totalScore, r + 2]; }),
    label: {show: true, position: 'left', distance: 6, offset: [0, -10], fontSize: 13.5, fontStyle: 'italic',
        fontFamily: FONT, color: RED, formatter: function (p) { return prPredicted[p.dataIndex]; }}});
series.push({type: 'scatter', xAxisIndex: xE1, yAxisIndex: yE1, symbol: 'diamond', symbolSize: 13,
    silent: true, z: 7, itemStyle: {color: RED}, data: [[totalScore, 0]],
    label: {show: true, position: 'inside', offset: [2, -7], fontSize: 13.5, fontStyle: 'italic',
        fontFamily: FONT, color: RED, formatter: String(totalScore)}});

/* ---------------- texts ---------------- */
addTitle('A', 3, 5, txt(17, {fontWeight: 'bold'}));
addTitle('B', 563, 5, txt(17, {fontWeight: 'bold'}));
addTitle('C', 3, 417, txt(21, {fontWeight: 'bold'}));
addTitle('D', 3, 721, txt(21, {fontWeight: 'bold'}));
addTitle('E', 472, 417, txt(21, {fontWeight: 'bold'}));
addTitle('Altered in 189 (100%) of 189 samples.', 163, 7, txt(11.5, {fontWeight: 'bold'}));
addTitle('Altered in 198 (99.5%) of 199 samples.', 715, 7, txt(11.5, {fontWeight: 'bold'}));
addTitle('Points', 494, 454, txt(14, {fontStyle: 'italic', color: '#222'}));
addTitle('risk*', 494, 498, txt(15, {color: '#222'}));
addTitle('Age***', 494, 565, txt(15, {color: '#222'}));
addTitle('T***', 494, 631, txt(15, {color: '#222'}));
addTitle('Total points', 495, 695, txt(15, {fontStyle: 'italic', fontWeight: 'bold', color: '#222'}));
addTitle(prNames[0], 485, 809, txt(14, {fontStyle: 'italic', color: '#222'}));
addTitle(prNames[1], 488, 864, txt(14, {fontStyle: 'italic', color: '#222'}));
addTitle(prNames[2], 482, 914, txt(14, {fontStyle: 'italic', color: '#222'}));

var myChart = echarts.init(document.getElementById('main'));
myChart.setOption({
    animation: false,
    backgroundColor: '#fff',
    textStyle: {fontFamily: FONT},
    title: titles,
    legend: legends,
    grid: grids,
    xAxis: xAxes,
    yAxis: yAxes,
    series: series
});
window.onresize = function () {
    myChart.resize();
};
</script>
</body>
</html>
